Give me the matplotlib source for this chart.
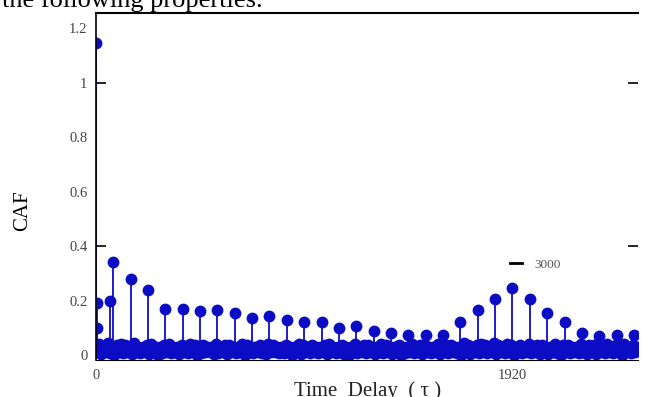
import matplotlib
matplotlib.use("Agg")
import numpy as np
import matplotlib.pyplot as plt
from matplotlib.lines import Line2D

# big correlation peaks, one every 80 lags
peak_lags = [80 * k for k in range(32)]
peak_vals = [1.145, 0.34, 0.28, 0.24, 0.17, 0.17, 0.16, 0.165, 0.155, 0.135,
             0.145, 0.13, 0.12, 0.12, 0.10, 0.105, 0.09, 0.08, 0.075, 0.075,
             0.075, 0.12, 0.165, 0.205, 0.245, 0.205, 0.155, 0.12, 0.08, 0.07,
             0.075, 0.075]

# a few extra points near the start
extra_lags = [3, 6, 64]
extra_vals = [0.19, 0.10, 0.20]

# dense low-level background, upper part (lags 15, 35, ..., 2495)
hi_lags = list(range(15, 2500, 20))
hi_vals = [0.040, 0.030, 0.045, 0.030, 0.035, 0.040, 0.035, 0.030, 0.045, 0.030,
           0.030, 0.035, 0.040, 0.030, 0.030, 0.035, 0.040, 0.030, 0.030, 0.035,
           0.030, 0.040, 0.035, 0.030, 0.035, 0.030, 0.030, 0.040, 0.030, 0.035,
           0.035, 0.030, 0.030, 0.040, 0.035, 0.030, 0.030, 0.035, 0.030, 0.040,
           0.035, 0.030, 0.030, 0.035, 0.030, 0.030, 0.040, 0.035, 0.030, 0.035,
           0.030, 0.030, 0.035, 0.040, 0.030, 0.030, 0.035, 0.030, 0.030, 0.040,
           0.030, 0.035, 0.035, 0.030, 0.030, 0.040, 0.035, 0.030, 0.030, 0.035,
           0.030, 0.030, 0.040, 0.030, 0.035, 0.035, 0.030, 0.030, 0.040, 0.030,
           0.035, 0.035, 0.030, 0.030, 0.045, 0.035, 0.030, 0.035, 0.040, 0.035,
           0.030, 0.045, 0.035, 0.030, 0.040, 0.035, 0.030, 0.035, 0.030, 0.040,
           0.030, 0.035, 0.035, 0.030, 0.030, 0.040, 0.030, 0.035, 0.035, 0.030,
           0.030, 0.040, 0.030, 0.035, 0.035, 0.030, 0.030, 0.040, 0.030, 0.035,
           0.035, 0.040, 0.030, 0.035, 0.030]

# dense low-level background, lower part (lags 5, 25, ..., 2485)
lo_lags = list(range(5, 2500, 20))
lo_vals = [0.010, 0.005, 0.012, 0.008, 0.000, 0.010, 0.006, 0.012, 0.004, 0.010,
           0.008, 0.012, 0.005, 0.010, 0.000, 0.008, 0.012, 0.006, 0.010, 0.004,
           0.012, 0.008, 0.010, 0.000, 0.006, 0.012, 0.010, 0.005, 0.008, 0.012,
           0.004, 0.010, 0.008, 0.012, 0.000, 0.010, 0.006, 0.012, 0.008, 0.005,
           0.010, 0.012, 0.006, 0.008, 0.010, 0.000, 0.012, 0.005, 0.010, 0.008,
           0.012, 0.006, 0.010, 0.004, 0.012, 0.008, 0.010, 0.005, 0.000, 0.012,
           0.008, 0.010, 0.006, 0.012, 0.004, 0.010, 0.008, 0.012, 0.005, 0.010,
           0.000, 0.008, 0.012, 0.006, 0.010, 0.004, 0.012, 0.008, 0.010, 0.005,
           0.012, 0.006, 0.010, 0.008, 0.000, 0.012, 0.005, 0.010, 0.008, 0.012,
           0.006, 0.010, 0.004, 0.012, 0.008, 0.010, 0.000, 0.012, 0.006, 0.010,
           0.008, 0.012, 0.005, 0.010, 0.004, 0.012, 0.008, 0.000, 0.010, 0.006,
           0.012, 0.008, 0.010, 0.005, 0.012, 0.004, 0.010, 0.008, 0.012, 0.006,
           0.010, 0.000, 0.012, 0.008, 0.010]

ytick_vals = [0, 0.2, 0.4, 0.6, 0.8, 1.0, 1.2]
ytick_labels = ["0", "0.2", "0.4", "0.6", "0.8", "1", "1.2"]
xtick_vals = [0, 1920]
xtick_labels = ["0", "1920"]

blue = "#0c0cc4"
serif = ["Liberation Serif", "DejaVu Serif"]

fig = plt.figure(figsize=(6.48, 3.97), dpi=100)
ax = fig.add_axes([0.148, 0.092, 0.837, 0.875])

lags = np.array(lo_lags + hi_lags + extra_lags + peak_lags)
vals = np.array(lo_vals + hi_vals + extra_vals + peak_vals)
ml, sl, bl = ax.stem(lags, vals, basefmt=" ")
plt.setp(ml, color=blue, markersize=7.5)
plt.setp(sl, color=blue, linewidth=1.3)

ax.set_xlim(0, 2500)
ax.set_ylim(-0.02, 1.255)

ax.set_yticks(ytick_vals)
ax.set_yticklabels(ytick_labels, family=serif, fontsize=10.5, color="#444444")
ax.set_xticks(xtick_vals)
ax.set_xticklabels(xtick_labels, family=serif, fontsize=10.5, color="#444444")
ax.tick_params(axis="both", which="major", length=0, pad=6)

# only two short tick marks are drawn, on both sides
ax.yaxis.remove_overlapping_locs = False
ax.set_yticks([0.4, 1.0], minor=True)
ax.tick_params(axis="y", which="minor", direction="in", length=7, width=1.2,
               left=True, right=True, color="black")
ax.set_xticks([], minor=True)

ax.spines["right"].set_visible(False)
ax.spines["top"].set_linewidth(1.5)
ax.spines["left"].set_linewidth(1.2)

ax.set_ylabel("CAF", family=serif, fontsize=15)
ax.yaxis.set_label_coords(-0.118, 0.43)
ax.set_xlabel("Time  Delay  ( τ )", family=serif, fontsize=15, color="#222222")
ax.xaxis.set_label_coords(0.5, -0.06)

handle = Line2D([], [], color="black", linewidth=2)
ax.legend([handle], ["3000"], loc="center left", bbox_to_anchor=(0.752, 0.275),
          frameon=False, handlelength=0.9, handletextpad=0.9, borderpad=0,
          prop={"family": serif, "size": 9.5}, labelcolor="#555555")

fig.text(0.003, 0.982, "the following properties.", family=serif, fontsize=19,
         va="baseline", ha="left")

fig.savefig("out.png", dpi=100)
